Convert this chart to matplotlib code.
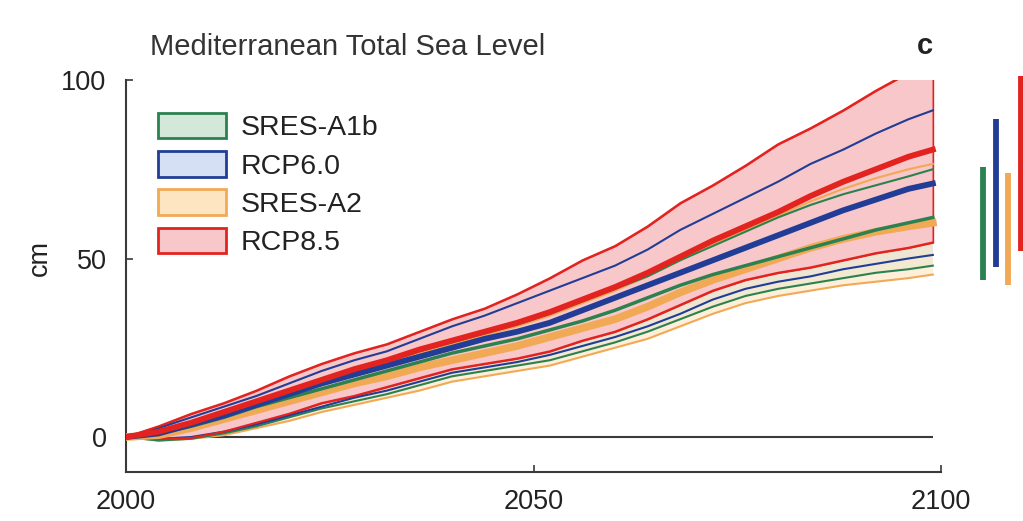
import numpy as np
import matplotlib
matplotlib.use("Agg")
from matplotlib import pyplot as plt
from matplotlib.patches import Patch

plt.rcParams['font.family'] = ['Liberation Sans', 'DejaVu Sans']

# 年份（每4年一个点，最后到2099）
years = [2000, 2004, 2008, 2012, 2016, 2020, 2024, 2028, 2032, 2036, 2040, 2044, 2048,
         2052, 2056, 2060, 2064, 2068, 2072, 2076, 2080, 2084, 2088, 2092, 2096, 2099]

# RCP8.5
rcp85_hi = [0, 3, 6.5, 9.5, 13, 17, 20.5, 23.5, 26, 29.5, 33, 36, 40,
            44.5, 49.5, 53.5, 59, 65.5, 70.5, 76, 82, 86.5, 91.5, 97, 102, 105]
rcp85_mid = [0, 1.5, 4, 7, 10, 13, 16, 19, 21.5, 24.5, 27, 29.5, 32,
             35, 38.5, 42, 46, 50.5, 55, 59, 63, 67.5, 71.5, 75, 78.5, 80.5]
rcp85_lo = [0, -0.5, -0.3, 1.5, 4, 6.5, 9.5, 11.5, 14, 16.5, 19, 20.5, 22,
            24, 27, 29.5, 33, 37, 41, 44, 46, 47.5, 49.5, 51.5, 53, 54.5]

# RCP6.0
rcp60_hi = [0, 2.5, 5.5, 8.5, 11.5, 15, 18.5, 21.5, 24, 27.5, 31, 34, 37.5,
            41, 44.5, 48, 52.5, 58, 62.5, 67, 71.5, 76.5, 80.5, 85, 89, 91.5]
rcp60_mid = [0, 1, 3.5, 6, 9, 12, 15, 17.5, 20, 22.5, 25, 27.5, 29.5,
             32, 35.5, 39, 42.5, 46, 49.5, 53, 56.5, 60, 63.5, 66.5, 69.5, 71]
rcp60_lo = [0, -0.5, 0, 1.5, 3.5, 6, 8.5, 11, 13, 15.5, 18, 19.5, 21,
            23, 25.5, 28, 31, 34.5, 38.5, 41.5, 43.5, 45, 47, 48.5, 50, 51]

# SRES-A1b
a1b_hi = [0, 1.5, 4, 7, 9.5, 12.5, 15.5, 18.5, 21, 24, 26.5, 29, 31.5,
          34.5, 38, 41.5, 45, 49.5, 53.5, 57.5, 61.5, 65, 68, 70.5, 73, 75]
a1b_mid = [0, 1, 3, 5.5, 8.5, 11, 13.5, 16, 18.5, 21, 23.5, 25.5, 27.5,
           30, 32.5, 35.5, 39, 42.5, 45.5, 48, 50.5, 53, 55.5, 58, 60, 61.5]
a1b_lo = [0, -1, -0.5, 1, 3, 5.5, 8, 10, 12, 14.5, 17, 18.5, 20,
          21.5, 24, 26.5, 29.5, 33, 36.5, 39.5, 41.5, 43, 44.5, 46, 47, 48]

# SRES-A2
a2_hi = [0, 1, 3.5, 6.5, 9.5, 12.5, 15.5, 18, 20.5, 23.5, 26, 28.5, 31,
         34, 37.5, 41, 45, 49.5, 54, 58, 62, 66, 69.5, 72.5, 75, 76.5]
a2_mid = [0, 0.5, 2.5, 5, 7.5, 10, 12.5, 15, 17, 19.5, 21.5, 23.5, 25.5,
          28, 30.5, 33, 36.5, 40.5, 44, 47, 50, 53, 55.5, 57.5, 59, 60]
a2_lo = [0, -1, -0.5, 0.5, 2.5, 4.5, 7, 9, 11, 13, 15.5, 17, 18.5,
         20, 22.5, 25, 27.5, 31, 34.5, 37.5, 39.5, 41, 42.5, 43.5, 44.5, 45.5]

# 2100年范围（右侧竖条）
bar_names = ['SRES-A1b', 'RCP6.0', 'SRES-A2', 'RCP8.5']
bar_lo = [44, 47.5, 42.5, 52]
bar_hi = [75.5, 89, 74, 101]
bar_x = [2105.1, 2106.7, 2108.2, 2109.8]

green, blue, orange, red = '#2c8150', '#213d96', '#f2a955', '#e3231f'
green_f, blue_f, orange_f, red_f = '#d3e8d8', '#d6e0f4', '#fde5c2', '#f7c7ca'
gray = '#3a3a3a'

fig = plt.figure(figsize=(10.23, 5.21), dpi=100)
ax = fig.add_axes([126 / 1023, 1 - 472 / 521, 815 / 1023, 392 / 521])

x = np.array(years)
ax.fill_between(x, a1b_lo, a1b_hi, facecolor=green_f, alpha=0.6, lw=0, zorder=1)
ax.fill_between(x, rcp60_lo, rcp60_hi, facecolor=blue_f, alpha=0.6, lw=0, zorder=1)
ax.fill_between(x, a2_lo, a2_hi, facecolor=orange_f, alpha=0.6, lw=0, zorder=1)
ax.fill_between(x, rcp85_lo, rcp85_hi, facecolor=red_f, edgecolor=red, lw=1.2, zorder=1.5)

# 上下界细线
for lo, hi, c in [(a2_lo, a2_hi, orange), (a1b_lo, a1b_hi, green),
                  (rcp60_lo, rcp60_hi, blue), (rcp85_lo, rcp85_hi, red)]:
    ax.plot(x, lo, color=c, lw=1.5, zorder=2)
    ax.plot(x, hi, color=c, lw=1.5, zorder=2)

# 中值粗线
ax.plot(x, a2_mid, color=orange, lw=5.5, zorder=3)
ax.plot(x, a1b_mid, color=green, lw=2.5, zorder=3)
ax.plot(x, rcp60_mid, color=blue, lw=4.2, zorder=3)
ax.plot(x, rcp85_mid, color=red, lw=4.2, zorder=3)

ax.hlines(0, years[0], years[-1], color=gray, lw=1.5, zorder=0.5)

# 2100年范围竖条
for xb, lo, hi, c in zip(bar_x, bar_lo, bar_hi, [green, blue, orange, red]):
    ax.plot([xb, xb], [lo, hi], color=c, lw=4.2, solid_capstyle='butt', clip_on=False)

ax.set_xlim(2000, 2100)
ax.set_ylim(-9.8, 100)
ax.set_xticks([2000, 2050, 2100])
ax.set_yticks([0, 50, 100])
ax.tick_params(direction='in', length=5, width=1.2, color=gray, labelcolor='#222222',
               labelsize=19.5)
ax.tick_params(axis='x', pad=12)
ax.tick_params(axis='y', pad=14)
for s in ['top', 'right']:
    ax.spines[s].set_visible(False)
for s in ['left', 'bottom']:
    ax.spines[s].set_color(gray)
    ax.spines[s].set_linewidth(1.5)

fig.text(40 / 1023, 1 - 258 / 521, 'cm', rotation=90, ha='center', va='center',
         fontsize=19.5, color='#222222')
fig.text(150 / 1023, 1 - 47 / 521, 'Mediterranean Total Sea Level', ha='left', va='center',
         fontsize=21, color='#333333')
fig.text(925 / 1023, 1 - 46 / 521, 'c', ha='center', va='center', fontsize=21,
         fontweight='bold', color='#222222')

handles = [Patch(facecolor=green_f, edgecolor=green, lw=2),
           Patch(facecolor=blue_f, edgecolor=blue, lw=2),
           Patch(facecolor=orange_f, edgecolor=orange, lw=2),
           Patch(facecolor=red_f, edgecolor=red, lw=2)]
fig.legend(handles, bar_names, loc='upper left',
           bbox_to_anchor=(158 / 1023, 1 - 113 / 521), frameon=False, fontsize=20.5,
           handlelength=2.4, handleheight=1.0, handletextpad=0.5, labelspacing=0.34,
           borderpad=0, borderaxespad=0, labelcolor='#222222')

fig.savefig('out.png', dpi=100)
